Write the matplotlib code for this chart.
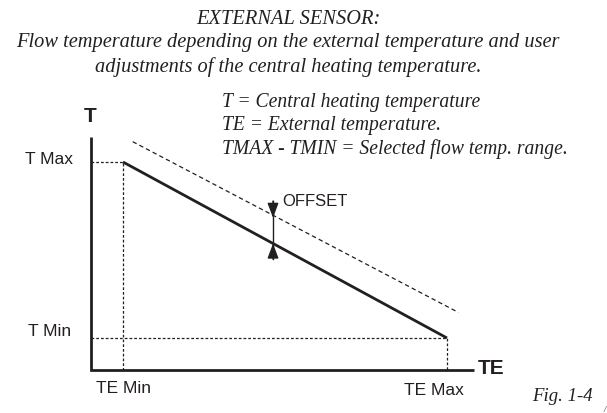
import numpy as np
import matplotlib
matplotlib.use("Agg")
import matplotlib.pyplot as plt

# schematic values (arbitrary units)
te_points = [1.0, 11.0]          # TE Min, TE Max
t_points = [6.5, 1.0]            # T Max, T Min
offset = 0.8                     # user offset of the curve
offset_te = [1.3, 11.35]         # extent of the shifted (dashed) curve
arrow_te = 5.63                  # where the OFFSET arrow sits
arrow_span = [3.47, 5.28]        # vertical extent of the arrow stem
axis_end = [11.83, 7.28]         # x and y end of the axes lines

title_lines = ["EXTERNAL SENSOR:",
               "Flow temperature depending on the external temperature and user",
               "adjustments of the central heating temperature."]
legend_lines = ["T = Central heating temperature",
                "TE = External temperature.",
                "TMAX - TMIN = Selected flow temp. range."]

SANS = "Liberation Sans"
SERIF = "Liberation Serif"

W, H = 607, 414
fig = plt.figure(figsize=(W / 100, H / 100), dpi=100)
ax = fig.add_axes([0, 0, 1, 1])
ax.set_xlim(-90.6 / 32.4, (W - 90.6) / 32.4)
ax.set_ylim((371 - H) / 32.0, 371 / 32.0)
ax.axis("off")


def line_at(te):
    # the heating curve (straight line between the two corner points)
    return np.interp(te, te_points, t_points)


# axes
ax.plot([0, 0, axis_end[0]], [axis_end[1], 0, 0], color="#231f20", lw=2.0,
        solid_joinstyle="miter", solid_capstyle="butt")

# dotted guides
dot = dict(color="#231f20", lw=0.9, linestyle=(0, (2.2, 1.6)))
ax.plot([0, te_points[0], te_points[0]], [t_points[0], t_points[0], 0], **dot)
ax.plot([0, te_points[1], te_points[1]], [t_points[1], t_points[1], 0], **dot)

# heating curve
ax.plot(te_points, t_points, color="#231f20", lw=2.0, solid_capstyle="butt")

# shifted curve
off_y = [line_at(x) + offset for x in offset_te]
ax.plot(offset_te, off_y, color="#231f20", lw=0.9, linestyle=(0, (3.5, 2.5)))

# OFFSET arrow
y_lo = line_at(arrow_te)
y_hi = y_lo + offset
ax.plot([arrow_te, arrow_te], arrow_span, color="#231f20", lw=1.0)
head = dict(arrowstyle="-|>,head_length=0.75,head_width=0.28", color="#231f20",
            lw=1.0, shrinkA=0, shrinkB=0, mutation_scale=12)
ax.annotate("", xy=(arrow_te, y_hi), xytext=(arrow_te, arrow_span[1]), arrowprops=head)
ax.annotate("", xy=(arrow_te, y_lo), xytext=(arrow_te, arrow_span[0]), arrowprops=head)
ax.text(arrow_te + 0.27, 5.31, "OFFSET", family=SANS, fontsize=12,
        ha="left", va="center", color="#231f20")

# axis labels
ax.text(-0.55, t_points[0] + 0.1, "T Max", family=SANS, fontsize=12.5,
        ha="right", va="center", color="#231f20")
ax.text(-0.6, t_points[1] + 0.22, "T Min", family=SANS, fontsize=12.5,
        ha="right", va="center", color="#231f20")
ax.text(te_points[0], -0.56, "TE Min", family=SANS, fontsize=12.5,
        ha="center", va="center", color="#231f20")
ax.text(10.6, -0.62, "TE Max", family=SANS, fontsize=12.5,
        ha="center", va="center", color="#231f20")
ax.text(0, 7.94, "T", family=SANS, fontsize=15, fontweight="bold",
        ha="center", va="center", color="#231f20")
ax.text(11.96, 0.09, "TE", family=SANS, fontsize=15, fontweight="bold",
        ha="left", va="center", color="#231f20")
ax.text(14.55, -0.81, "Fig. 1-4", family=SERIF, fontsize=13.5, style="italic",
        ha="center", va="center", color="#231f20")
ax.text(15.86, -1.22, "/", family=SERIF, fontsize=6, style="italic",
        ha="center", va="center", color="#231f20")

# title and legend
for i, s in enumerate(title_lines):
    fig.text(288 / W, 1 - (19 + 24 * i) / H, s, family=SERIF, fontsize=14.7,
             style="italic", ha="center", va="center", color="#231f20")
for i, s in enumerate(legend_lines):
    fig.text(222 / W, 1 - (102 + 23.5 * i) / H, s, family=SERIF, fontsize=14.1,
             style="italic", ha="left", va="center", color="#231f20")

fig.savefig("out.png", dpi=100)
